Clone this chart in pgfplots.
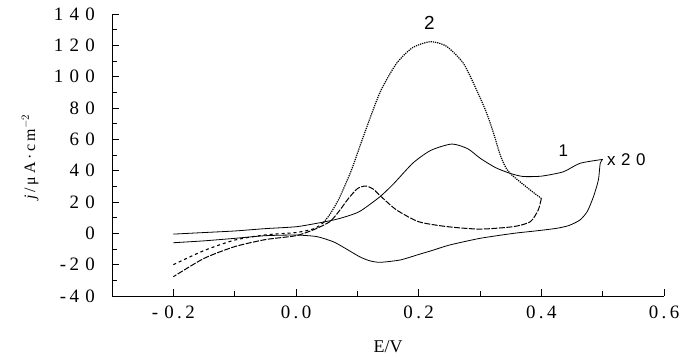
\documentclass[border=0pt]{standalone}
\usepackage{fontspec}
\setmainfont{Liberation Serif}
\newfontfamily\lsans{Liberation Sans}
\usepackage{pgfplots}
\pgfplotsset{compat=1.18}
\newcommand{\g}{\hspace{0.33em}}
\newcommand{\h}{\hspace{0.18em}}
\begin{document}
\begin{tikzpicture}
\path[use as bounding box] (-112bp,-67bp) rectangle (575bp,296bp);
\begin{axis}[
 at={(0,0)}, anchor=south west,
 scale only axis, width=552bp, height=282bp,
 xmin=-0.3, xmax=0.6, ymin=-40, ymax=140,
 axis x line*=bottom, axis y line*=left,
 tick align=inside,
 /pgf/number format/assume math mode=true,
 xtick={-0.2,0,0.2,0.4,0.6},
 xticklabels={-\g0\h.\h2, 0\h.\h0, 0\h.\h2, 0\h.\h4, 0\h.\h6},
 minor xtick={-0.1,0.1,0.3,0.5},
 ytick={-40,-20,0,20,40,60,80,100,120,140},
 yticklabels={-\h4\g0,-\h2\g0,0,2\g0,4\g0,6\g0,8\g0,1\g0\g0,1\g2\g0,1\g4\g0},
 minor ytick={-30,-10,10,30,50,70,90,110,130},
 major tick length=7bp, minor tick length=5bp,
 every tick/.style={black, line width=0.8bp},
 axis line style={line width=0.9bp},
 tick label style={font=\fontsize{19}{22}\selectfont},
 yticklabel style={anchor=east, inner sep=0pt, xshift=-17bp},
 xticklabel style={anchor=north, inner sep=0pt, yshift=-10bp},
 clip=false,
]
% curve 1 (x20), anodic
\addplot[black, line width=0.8bp, smooth, tension=0.4] coordinates {
(-0.2,-0.5) (-0.15,0.5) (-0.1,1.5) (-0.05,3) (0.0,4.2) (0.034,6.4) (0.061,8.5) (0.08,10.5) (0.104,14) (0.137,23.4) (0.16,32) (0.191,45) (0.22,53) (0.254,57) (0.28,54) (0.30,48) (0.325,42) (0.349,38.3) (0.37,36.3) (0.40,36.5) (0.436,39.3) (0.463,44.7) (0.5,47.2)};
% curve 1 (x20), cathodic
\addplot[black, line width=0.8bp, smooth, tension=0.4] coordinates {
(0.5,47.2) (0.496,44.7) (0.493,34) (0.485,23.4) (0.475,14) (0.463,8.5) (0.445,5) (0.425,3.2) (0.39,1.5) (0.355,0) (0.30,-3.2) (0.25,-7.5) (0.224,-10.7) (0.2,-13.5) (0.17,-17) (0.137,-18.5) (0.12,-17.5) (0.104,-15) (0.08,-9.5) (0.061,-5.4) (0.034,-2.1) (0.0,-1.1) (-0.05,-1.5) (-0.1,-3.2) (-0.15,-4.8) (-0.2,-6)};
% curve 2, anodic (dashed start)
\addplot[black, line width=1.1bp, dashed, smooth, tension=0.4] coordinates {
(-0.2,-20) (-0.15,-11) (-0.1,-4.3) (-0.05,-1) (0.0,0.5) (0.03,3) (0.045,7)};
% curve 2, anodic (dotted)
\addplot[black, line width=1.2bp, densely dotted, smooth, tension=0.4] coordinates {
(0.045,7) (0.055,12) (0.07,22) (0.09,40) (0.11,62) (0.137,90) (0.164,108.5) (0.19,118.5) (0.219,122.3) (0.245,119.5) (0.273,108.5) (0.295,91) (0.311,76.6) (0.322,64) (0.333,50) (0.342,42) (0.352,37.2) (0.382,27.6) (0.40,22.3)};
% curve 2, cathodic
\addplot[black, line width=1.0bp, dashed, dash pattern=on 6bp off 1.5bp, smooth, tension=0.4] coordinates {
(0.40,22.3) (0.395,14.9) (0.382,7.4) (0.355,4.3) (0.30,2.7) (0.246,4.3) (0.2,7.4) (0.164,14.9) (0.14,23) (0.125,28.5) (0.113,30.2) (0.10,28.5) (0.085,22) (0.07,14) (0.055,7.4) (0.03,2.5) (0.0,-1.5) (-0.05,-4) (-0.1,-8.5) (-0.15,-16) (-0.2,-27.7)};
\node[font=\lsans\fontsize{19}{22}\selectfont] at (axis cs:0.2175,134.5) {2};
\node[font=\lsans\fontsize{17}{20}\selectfont] at (axis cs:0.436,52.5) {1};
\node[font=\lsans\fontsize{17}{20}\selectfont, anchor=west, inner sep=0pt] at (axis cs:0.507,47.2) {x\g2\g0};
\node[font=\fontsize{18}{20}\selectfont] at (axis description cs:0.5,-0.181) {E/V};
\node[font=\fontsize{16}{18}\selectfont, rotate=90] at (axis description cs:-0.148,0.493) {\textit{j}\h/\h μ\h A\h·\h c\h m$^{-2}$};
\end{axis}
\end{tikzpicture}
\end{document}
